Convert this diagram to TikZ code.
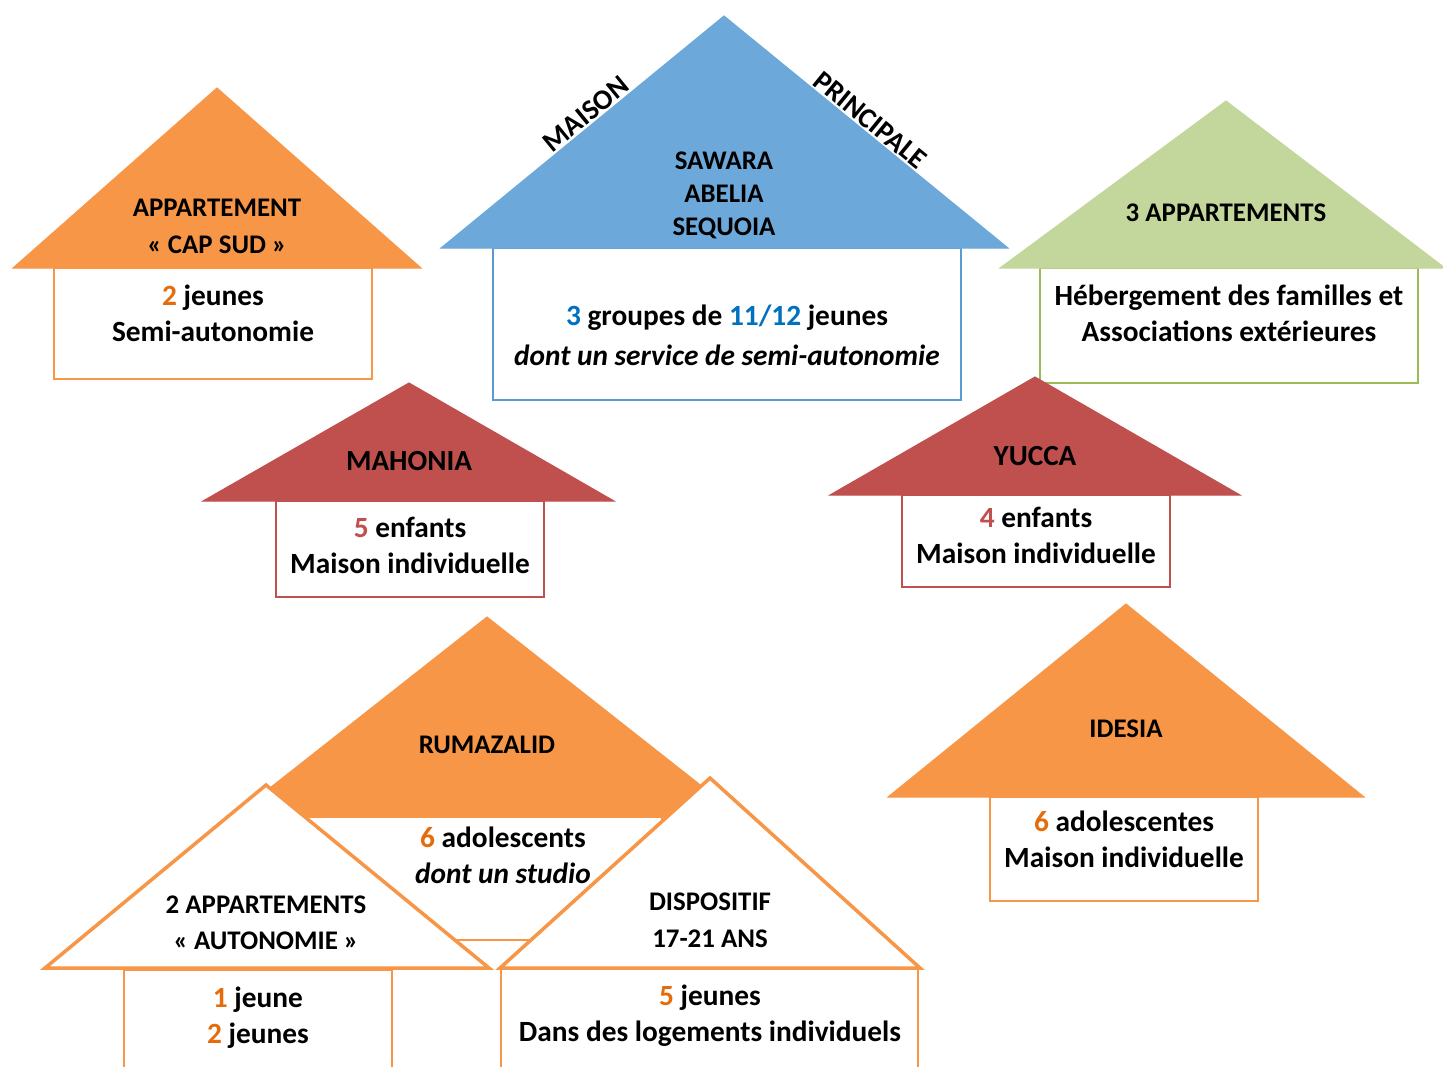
\documentclass[tikz,border=0pt]{standalone}
\usepackage{fontspec}
\setmainfont{Carlito}
\definecolor{roofOrange}{HTML}{F79646}
\definecolor{roofBlue}{HTML}{6CA8DA}
\definecolor{roofGreen}{HTML}{C3D69B}
\definecolor{roofRed}{HTML}{C0504D}
\definecolor{numOrange}{HTML}{E46C0A}
\definecolor{numBlue}{HTML}{0070C0}
\definecolor{wallGreen}{HTML}{9BBB59}
\definecolor{wallBlue}{HTML}{5B9BD5}
\newcommand{\roofsize}{\fontsize{15.3}{21}\selectfont}
\newcommand{\bodysize}{\fontsize{16.7}{20.5}\selectfont}
\newcommand{\nb}[2]{\textcolor{#1}{#2}}
\tikzset{
  rooftext/.style={font=\roofsize\bfseries, anchor=base, inner sep=0pt},
  bigroof/.style={rooftext, font=\fontsize{16.6}{20}\selectfont\bfseries},
  edgetext/.style={rooftext, anchor=center, font=\fontsize{16.2}{20}\selectfont\bfseries},
  bodytext/.style={font=\bodysize\bfseries, anchor=base, inner sep=0pt},
  slanttext/.style={bodytext, font=\bodysize\bfseries\itshape},
  wall/.style={fill=white, line width=1.1pt},
  roof/.style={line width=0.6pt},
  openroof/.style={fill=white, draw=roofOrange, line width=2pt},
}

\begin{document}
\begin{tikzpicture}[x=0.02cm, y=-0.02cm]
\useasboundingbox (0,0) rectangle (1443,1066);

% ---------------- walls of the single houses ----------------
\foreach \xa/\ya/\xb/\yb/\c in {54/268/372/379/roofOrange,
    493/248/961/400/wallBlue, 1040/268/1418/383/wallGreen,
    276/501/544/597/roofRed, 902/495/1170/587/roofRed,
    990/797/1258/901/roofOrange} {
  \draw[wall, draw=\c] (\xa,\ya) rectangle (\xb,\yb);
}

% ---------------- roofs ----------------
\foreach \ax/\ay/\lx/\rx/\by/\c in {217/88/13/421/268/roofOrange,
    724/16/441/1008/248/roofBlue, 1226/101/1000/1445/268/roofGreen,
    409/383/203/614/501/roofRed, 1035/377/830/1240/495/roofRed,
    1126/604/888/1364/797/roofOrange} {
  \filldraw[roof, fill=\c, draw=\c] (\ax,\ay) -- (\lx,\by) -- (\rx,\by) -- cycle;
}

% ---------------- Cap Sud ----------------
\node[rooftext] (capA) at (217,216) {APPARTEMENT};
\node[rooftext] (capB) at (217,253) {« CAP SUD »};
\node[bodytext] (capN) at (213,305) {\nb{numOrange}{2} jeunes};
\node[bodytext] (capS) at (213,341) {Semi-autonomie};

% ---------------- maison principale ----------------
\node[edgetext, rotate=39.3] (mais) at (586,114) {MAISON};
\node[edgetext, rotate=-39.2] (prin) at (870,120) {PRINCIPALE};
\node[rooftext] (saw) at (724,169) {SAWARA};
\node[rooftext] (abe) at (724,202) {ABELIA};
\node[rooftext] (seq) at (724,235) {SEQUOIA};
\node[bodytext] (grp) at (727,325)
  {\nb{numBlue}{3} groupes de \nb{numBlue}{11/12} jeunes};
\node[slanttext] (serv) at (727,365) {dont un service de semi-autonomie};

% ---------------- 3 appartements ----------------
\node[rooftext] (apt3) at (1226,221) {3 APPARTEMENTS};
\node[bodytext] (heb) at (1229,305) {Hébergement des familles et};
\node[bodytext] (asso) at (1229,341) {Associations extérieures};

% ---------------- Mahonia, Yucca, Idesia ----------------
\node[bigroof] (mah) at (409,470) {MAHONIA};
\node[bodytext] (mahN) at (410,537) {\nb{roofRed}{5} enfants};
\node[bodytext] (mahM) at (410,573) {Maison individuelle};

\node[bigroof] (yuc) at (1035,465) {YUCCA};
\node[bodytext] (yucN) at (1036,527) {\nb{roofRed}{4} enfants};
\node[bodytext] (yucM) at (1036,563) {Maison individuelle};

\node[rooftext] (ide) at (1126,737) {IDESIA};
\node[bodytext] (ideN) at (1124,831) {\nb{numOrange}{6} adolescentes};
\node[bodytext] (ideM) at (1124,867) {Maison individuelle};

% ---------------- Rumazalid and its two annexes ----------------
% the big roof goes first, the two white roofs hide its corners
\filldraw[roof, fill=roofOrange, draw=roofOrange] (487,617) -- (233,817) -- (741,817) -- cycle;
\draw[wall, draw=roofOrange] (300,817) rectangle (662,940);
\node[rooftext] (rum) at (487,753) {RUMAZALID};
\node[bodytext] (rumN) at (503,847) {\nb{numOrange}{6} adolescents};
\node[slanttext] (rumS) at (503,883) {dont un studio};

\draw[wall, draw=roofOrange] (124,1080) -- (124,970) -- (392,970) -- (392,1080);
\filldraw[openroof] (266,785) -- (45,968) -- (489,968) -- cycle;
\node[rooftext] (autA) at (266,913) {2 APPARTEMENTS};
\node[rooftext] (autB) at (266,949) {« AUTONOMIE »};
\node[bodytext] (autN) at (258,1007) {\nb{numOrange}{1} jeune};
\node[bodytext] (autM) at (258,1043) {\nb{numOrange}{2} jeunes};

\draw[wall, draw=roofOrange] (501,1080) -- (501,968) -- (918,968) -- (918,1080);
\filldraw[openroof] (710,778) -- (500,968) -- (920,968) -- cycle;
\node[rooftext] (dispA) at (710,910) {DISPOSITIF};
\node[rooftext] (dispB) at (710,947) {17-21 ANS};
\node[bodytext] (dispN) at (710,1005) {\nb{numOrange}{5} jeunes};
\node[bodytext] (dispL) at (710,1041) {Dans des logements individuels};
\end{tikzpicture}
\end{document}
